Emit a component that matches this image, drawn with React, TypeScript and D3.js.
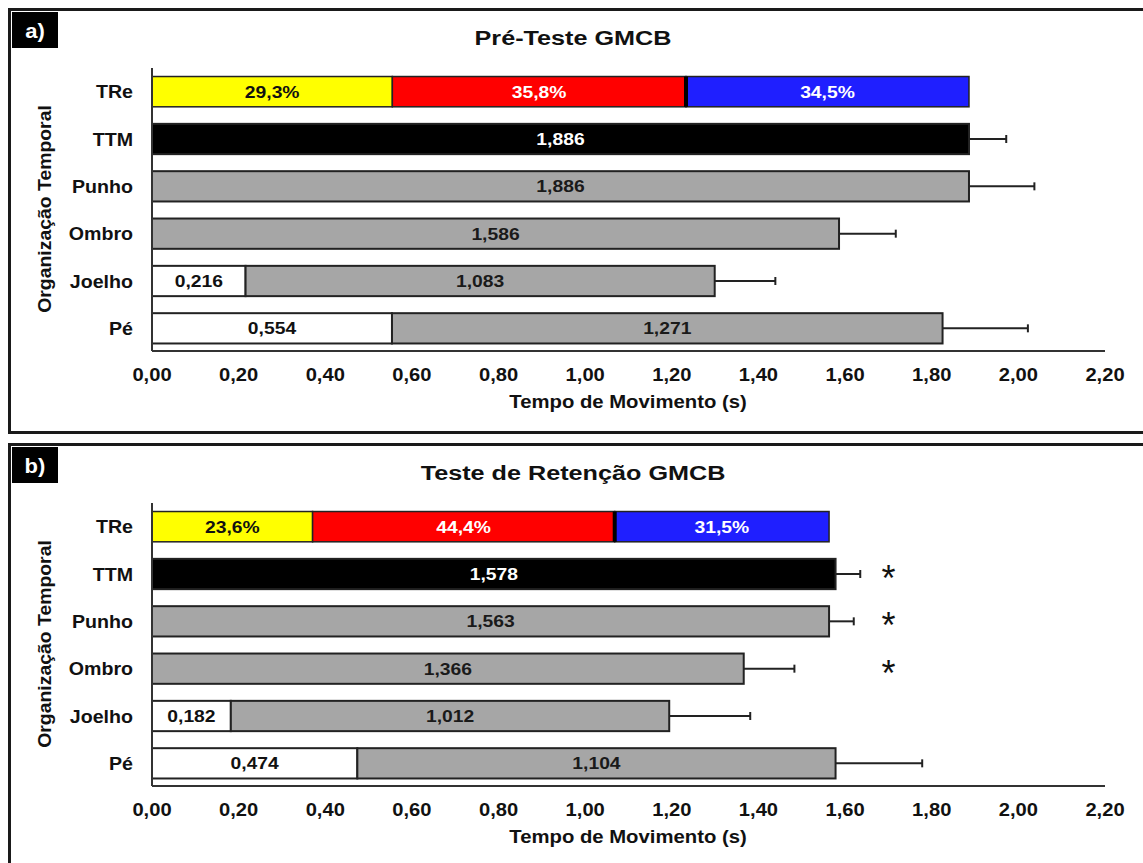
import React from "react";
import { scaleLinear, scaleBand, format } from "d3";

// categories (top to bottom)
const categories = ["TRe", "TTM", "Punho", "Ombro", "Joelho", "Pé"];
const bodyRows = ["TTM", "Punho", "Ombro", "Joelho", "Pé"];
const xTicks = [0, 0.2, 0.4, 0.6, 0.8, 1.0, 1.2, 1.4, 1.6, 1.8, 2.0, 2.2];

// a) Pré-Teste GMCB
const preTrePct = [29.3, 35.8, 34.5];
const preTreTotal = 1.886;
const preWhite = [0, 0, 0, 0.216, 0.554];
const preGray = [1.886, 1.886, 1.586, 1.083, 1.271];
const preSd = [0.086, 0.151, 0.131, 0.14, 0.197];
const preSig = [false, false, false, false, false];

// b) Teste de Retenção GMCB
const postTrePct = [23.6, 44.4, 31.5];
const postTreTotal = 1.563;
const postWhite = [0, 0, 0, 0.182, 0.474];
const postGray = [1.578, 1.563, 1.366, 1.012, 1.104];
const postSd = [0.057, 0.057, 0.117, 0.187, 0.2];
const postSig = [true, true, true, false, false];

const treColors = ["#ffff00", "#ff0000", "#1f1fff"];
const treText = ["#111", "#fff", "#fff"];

const FONT = "'Liberation Sans', Arial, sans-serif";
const INK = "#222";

const fmt3 = (v: number) => format(".3f")(v).replace(".", ",");
const fmt2 = (v: number) => format(".2f")(v).replace(".", ",");
const fmtPct = (v: number) => format(".1f")(v).replace(".", ",") + "%";

// the source figure's text is a bit wide, so stretch it horizontally
function T({
  x,
  y,
  size,
  sx = 1,
  rot = 0,
  fill = "#111",
  anchor = "middle",
  weight = "bold",
  children,
}: {
  x: number;
  y: number;
  size: number;
  sx?: number;
  rot?: number;
  fill?: string;
  anchor?: string;
  weight?: string;
  children: React.ReactNode;
}) {
  return (
    <text
      transform={`translate(${x},${y}) rotate(${rot}) scale(${sx},1)`}
      textAnchor={anchor}
      fill={fill}
      fontSize={size}
      fontWeight={weight}
      fontFamily={FONT}
    >
      {children}
    </text>
  );
}

interface PanelProps {
  offset: number;
  tag: string;
  title: string;
  trePct: number[];
  treTotal: number;
  white: number[];
  gray: number[];
  sd: number[];
  sig: boolean[];
}

function Panel({ offset, tag, title, trePct, treTotal, white, gray, sd, sig }: PanelProps) {
  const x = scaleLinear().domain([0, 2.2]).range([152, 1105]);
  const y = scaleBand<string>()
    .domain(categories)
    .range([68, 352])
    .paddingInner(0.36)
    .paddingOuter(0.18);
  const bw = y.bandwidth();

  const pctSum = trePct.reduce((a, b) => a + b, 0);
  let acc = 0;
  const treSegs = trePct.map((p, i) => {
    const v0 = acc;
    acc += (p / pctSum) * treTotal;
    return { p, v0, v1: acc, i };
  });

  const treY = y("TRe") as number;

  return (
    <g transform={`translate(0,${offset})`}>
      <rect x={9.5} y={9.5} width={1140} height={423} fill="#fff" stroke="#1a1a1a" strokeWidth={3} />
      <rect x={12} y={12} width={46} height={36} fill="#000" />
      <T x={35} y={38} size={20} sx={1.1} fill="#fff">
        {tag}
      </T>
      <T x={573} y={45} size={21} sx={1.2}>
        {title}
      </T>

      {/* TRe stacked bar */}
      {treSegs.map((s) => (
        <g key={s.i}>
          <rect
            x={x(s.v0)}
            y={treY}
            width={x(s.v1) - x(s.v0)}
            height={bw}
            fill={treColors[s.i]}
            stroke={INK}
            strokeWidth={1.5}
          />
          <T x={(x(s.v0) + x(s.v1)) / 2} y={treY + bw / 2 + 6} size={16.5} sx={1.17} fill={treText[s.i]}>
            {fmtPct(s.p)}
          </T>
        </g>
      ))}
      <line
        x1={x(treSegs[1].v1)}
        x2={x(treSegs[1].v1)}
        y1={treY}
        y2={treY + bw}
        stroke="#000"
        strokeWidth={4}
      />

      {bodyRows.map((cat, i) => {
        const by = y(cat) as number;
        const cy = by + bw / 2;
        const w0 = white[i];
        const end = w0 + gray[i];
        const isTtm = cat === "TTM";
        return (
          <g key={cat}>
            {w0 > 0 && (
              <g>
                <rect x={x(0)} y={by} width={x(w0) - x(0)} height={bw} fill="#fff" stroke={INK} strokeWidth={2} />
                <T x={(x(0) + x(w0)) / 2} y={cy + 6} size={16.5} sx={1.17}>
                  {fmt3(w0)}
                </T>
              </g>
            )}
            <line x1={x(end)} x2={x(end + sd[i])} y1={cy} y2={cy} stroke={INK} strokeWidth={2} />
            <line x1={x(end + sd[i])} x2={x(end + sd[i])} y1={cy - 4} y2={cy + 4} stroke={INK} strokeWidth={2} />
            <rect
              x={x(w0)}
              y={by}
              width={x(end) - x(w0)}
              height={bw}
              fill={isTtm ? "#000" : "#a6a6a6"}
              stroke={INK}
              strokeWidth={2}
            />
            <T x={(x(w0) + x(end)) / 2} y={cy + 6} size={16.5} sx={1.17} fill={isTtm ? "#fff" : "#1a1a1a"}>
              {fmt3(gray[i])}
            </T>
            {sig[i] && (
              <T x={x(1.7)} y={cy + 17} size={36} weight="normal">
                *
              </T>
            )}
          </g>
        );
      })}

      {/* category labels */}
      {categories.map((c) => (
        <T key={c} x={133} y={(y(c) as number) + bw / 2 + 6.5} size={18} sx={1.09} anchor="end">
          {c}
        </T>
      ))}

      {/* axes */}
      <line x1={x(0)} x2={x(0)} y1={68} y2={351} stroke="#333" strokeWidth={2} />
      <line x1={x(0)} x2={x(2.2)} y1={351} y2={351} stroke="#333" strokeWidth={2} />
      {xTicks.map((t) => (
        <T key={t} x={x(t)} y={381} size={18} sx={1.12}>
          {fmt2(t)}
        </T>
      ))}
      <T x={628} y={408} size={17.5} sx={1.16}>
        Tempo de Movimento (s)
      </T>
      <T x={51} y={209} size={18.5} sx={1.05} rot={-90}>
        Organização Temporal
      </T>
    </g>
  );
}

export default function App() {
  return (
    <svg
      width={1143}
      height={863}
      style={{ position: "absolute", left: 0, top: 0, background: "#fff" }}
    >
      <Panel
        offset={0}
        tag="a)"
        title="Pré-Teste GMCB"
        trePct={preTrePct}
        treTotal={preTreTotal}
        white={preWhite}
        gray={preGray}
        sd={preSd}
        sig={preSig}
      />
      <Panel
        offset={435}
        tag="b)"
        title="Teste de Retenção GMCB"
        trePct={postTrePct}
        treTotal={postTreTotal}
        white={postWhite}
        gray={postGray}
        sd={postSd}
        sig={postSig}
      />
    </svg>
  );
}
